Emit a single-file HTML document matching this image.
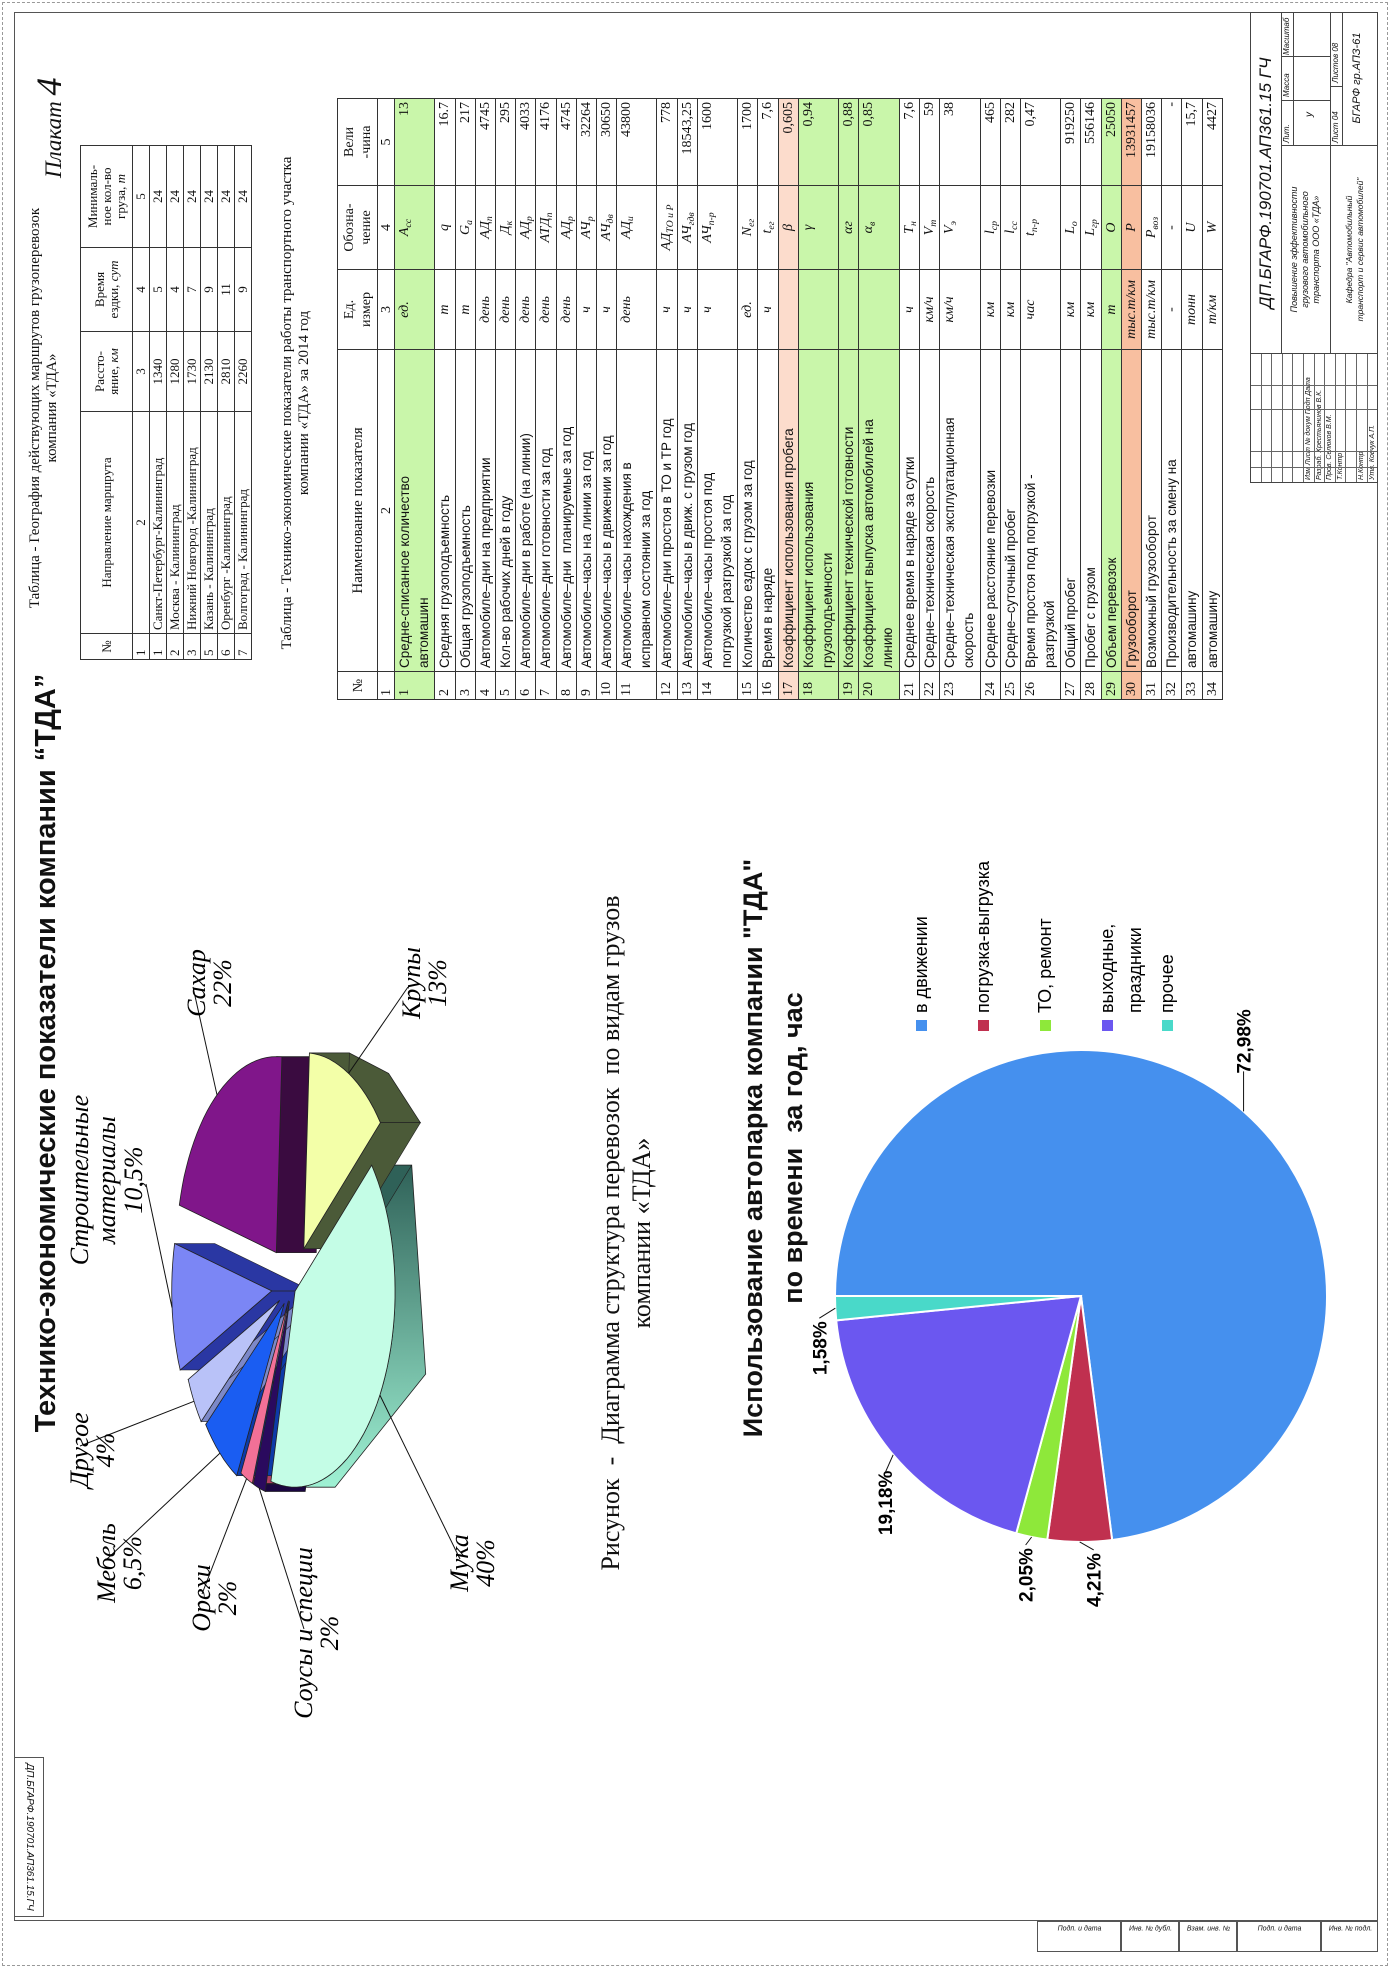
<!DOCTYPE html>
<html lang="ru"><head><meta charset="utf-8">
<style>
html,body{margin:0;padding:0;background:#fff;}
body{width:1390px;height:1968px;position:relative;overflow:hidden;}
#land{position:absolute;left:0;top:1968px;width:1968px;height:1390px;transform-origin:0 0;transform:rotate(-90deg);font-family:"Liberation Serif",serif;color:#111;}
.abs{position:absolute;}
table{border-collapse:collapse;table-layout:fixed;position:absolute;}
td{border:1px solid #333;padding:0 3px;overflow:hidden;white-space:nowrap;}
sub{line-height:0;font-size:70%;vertical-align:-3px;}
#rt td{font-size:13px;line-height:14px;height:16px;}
#rt thead td{text-align:center;line-height:14px;height:51px;}
#mt td{font-size:14px;line-height:17px;vertical-align:top;padding-top:1px;padding-bottom:0;}
#mt .nm{font-family:"Liberation Sans",sans-serif;font-size:13.5px;line-height:19px;padding-top:0;}
#mt .u,#mt .s{text-align:center;font-style:italic;}
#mt .v{text-align:right;}
.g{background:#c9f6aa;}
.p{background:#fcdccc;}
.pp{background:#f8bfa0;}
.tb{position:absolute;border:1px solid #444;box-sizing:border-box;font-family:"Liberation Sans",sans-serif;font-style:italic;overflow:hidden;}
</style></head>
<body>
<div id="land">
  <div class="abs" style="left:2px;top:2px;width:1962px;height:1384px;border:1px dashed #999;"></div>
  <div class="abs" style="left:47px;top:14px;width:1909px;height:1364px;border:1.5px solid #555;box-sizing:border-box;"></div>

  <div class="abs" style="left:51px;top:14px;width:160px;height:30px;border:1px solid #555;box-sizing:border-box;font:italic 10px 'Liberation Sans',sans-serif;text-align:center;line-height:28px;transform:rotate(180deg);">ДП.БГАРФ.190701.АП361.15.ГЧ</div>

  <div id="stamps"></div>

  <div class="abs" style="left:380px;top:30px;width:1070px;text-align:center;font:bold 29px 'Liberation Sans',sans-serif;">Технико-экономические показатели компании “ТДА”</div>
  <div class="abs" style="left:1790px;top:28px;font:italic 23px 'Liberation Serif',serif;">Плакат <span style="font-size:36px;">4</span></div>

  <div class="abs" style="left:1320px;top:27px;width:480px;text-align:center;font-size:15px;line-height:17px;">Таблица - География действующих маршрутов грузоперевозок<br>компания «ТДА»</div>
  <table id="rt" style="left:1308px;top:80px;width:514px;">
    <colgroup><col style="width:26px"><col style="width:222px"><col style="width:80px"><col style="width:84px"><col style="width:102px"></colgroup>
    <thead><tr><td>№</td><td>Направление маршрута</td><td>Рассто-<br>яние, <i>км</i></td><td>Время<br>ездки, <i>сут</i></td><td>Минималь-<br>ное кол-во<br>груза, <i>т</i></td></tr></thead>
    <tbody id="rtb"></tbody>
  </table>

  <div class="abs" style="left:1250px;top:279px;width:630px;text-align:center;font-size:15px;line-height:17px;">Таблица - Технико-экономические показатели работы транспортного участка<br>компании «ТДА» за 2014 год</div>
  <table id="mt" style="left:1268px;top:337px;width:601px;">
    <colgroup><col style="width:28px"><col style="width:322px"><col style="width:80px"><col style="width:84px"><col style="width:87px"></colgroup>
    <tbody id="mtb">
      <tr style="height:40px"><td style="text-align:center;vertical-align:middle">№</td><td style="text-align:center;vertical-align:middle;font-size:15px">Наименование показателя</td><td style="text-align:center;line-height:17px;vertical-align:middle">Ед.<br>измер</td><td style="text-align:center;line-height:17px;vertical-align:middle">Обозна-<br>чение</td><td style="text-align:center;line-height:17px;vertical-align:middle">Вели<br>-чина</td></tr>
      <tr style="height:17px"><td style="line-height:15px">1</td><td style="text-align:center;line-height:15px">2</td><td style="text-align:center;line-height:15px">3</td><td style="text-align:center;line-height:15px">4</td><td style="text-align:center;line-height:15px">5</td></tr>
    </tbody>
  </table>

  <!-- Title block -->
  <div id="tblock">
    <div class="tb" style="left:1614px;top:1250px;width:342px;height:32px;font-size:17px;text-align:center;line-height:30px;">ДП.БГАРФ.190701.АП361.15 ГЧ</div>
    <div class="tb" style="left:1614px;top:1281px;width:209px;height:50px;font-size:9px;text-align:center;line-height:11px;padding-top:7px;">Повышение эффективности<br>грузового автомобильного<br>транспорта ООО «ТДА»</div>
    <div class="tb" style="left:1614px;top:1330px;width:209px;height:48px;font-size:8.5px;text-align:center;line-height:11px;padding-top:13px;">Кафедра "Автомобильный<br>транспорт и сервис автомобилей"</div>
    <div class="tb" style="left:1822px;top:1281px;width:134px;height:50px;font-size:8px;">
      <div class="abs" style="left:2px;top:0">Лит.</div><div class="abs" style="left:48px;top:0">Масса</div><div class="abs" style="left:90px;top:0">Масштаб</div>
      <div class="abs" style="left:0;top:11px;width:134px;border-top:1px solid #444"></div>
      <div class="abs" style="left:44px;top:0;height:50px;border-left:1px solid #444"></div>
      <div class="abs" style="left:88px;top:0;height:50px;border-left:1px solid #444"></div>
      <div class="abs" style="left:28px;top:22px;font-size:10px">у</div>
    </div>
    <div class="tb" style="left:1822px;top:1330px;width:134px;height:48px;font-size:8px;">
      <div class="abs" style="left:2px;top:0">Лист  04</div><div class="abs" style="left:62px;top:0">Листов   08</div>
      <div class="abs" style="left:0;top:11px;width:134px;border-top:1px solid #444"></div>
      <div class="abs" style="left:58px;top:0;height:11px;border-left:1px solid #444"></div>
      <div class="abs" style="left:0;top:20px;width:134px;text-align:center;font-size:11px">БГАРФ гр.АПЗ-61</div>
    </div>
    <div class="tb" style="left:1485px;top:1250px;width:130px;height:128px;font-size:7px;" id="sig"></div>
  </div>

  <svg id="pie1" class="abs" style="left:0;top:0" width="1968" height="1390"></svg>
  <div class="abs" style="left:300px;top:595px;width:870px;text-align:center;font-size:26px;line-height:31px;">Рисунок &nbsp;- &nbsp;Диаграмма структура перевозок &nbsp;по видам грузов<br>компании «ТДА»</div>
  <div class="abs" style="left:460px;top:733px;width:720px;text-align:center;font:bold 27px 'Liberation Sans',sans-serif;line-height:40px;">Использование автопарка компании "ТДА"<br>по времени &nbsp;за год, час</div>
  <svg id="pie2" class="abs" style="left:0;top:0" width="1968" height="1390"></svg>
</div>

<script>
// ---------- Pie 1 data ----------
const cargoLabels = ["Мука","Соусы и специи","Орехи","Мебель","Другое","Строительные материалы","Сахар","Крупы"];
const cargoValues = [40,2,2,6.5,4,10.5,22,13];
const cargoValueText = ["40%","2%","2%","6,5%","4%","10,5%","22%","13%"];
// ---------- Pie 2 data ----------
const usageLabels = ["в движении","погрузка-выгрузка","ТО, ремонт","выходные, праздники","прочее"];
const usageValues = [72.98,4.21,2.05,19.18,1.58];
// ---------- Tables ----------
const routeRows = [
 ["1","Санкт-Петербург-Калининград","1340","5","24"],
 ["2","Москва - Калининград","1280","4","24"],
 ["3","Нижний Новгород -Калининград","1730","7","24"],
 ["5","Казань - Калининград","2130","9","24"],
 ["6","Оренбург -Калининград","2810","11","24"],
 ["7","Волгоград - Калининград","2260","9","24"]];
const mainRows = [
 ["1","Средне-списанное количество<br>автомашин","ед.","A<sub>сс</sub>","13",2,"g"],
 ["2","Средняя грузоподъемность","т","q","16.7",1,""],
 ["3","Общая грузоподъемность","т","G<sub>а</sub>","217",1,""],
 ["4","Автомобиле–дни на предприятии","день","АД<sub>п</sub>","4745",1,""],
 ["5","Кол-во рабочих дней в году","день","Д<sub>к</sub>","295",1,""],
 ["6","Автомобиле–дни в работе (на линии)","день","АД<sub>р</sub>","4033",1,""],
 ["7","Автомобиле–дни готовности за год","день","АТД<sub>п</sub>","4176",1,""],
 ["8","Автомобиле–дни &nbsp;планируемые за год","день","АД<sub>р</sub>","4745",1,""],
 ["9","Автомобиле–часы на линии за год","ч","АЧ<sub>р</sub>","32264",1,""],
 ["10","Автомобиле–часы в движении за год","ч","АЧ<sub>дв</sub>","30650",1,""],
 ["11","Автомобиле–часы нахождения в<br>исправном состоянии за год","день","АД<sub>и</sub>","43800",2,""],
 ["12","Автомобиле–дни простоя в ТО и ТР год","ч","АД<sub>ТО и Р</sub>","778",1,""],
 ["13","Автомобиле–часы в движ. с грузом год","ч","АЧ<sub>гдв</sub>","18543,25",1,""],
 ["14","Автомобиле–часы простоя под<br>погрузкой разгрузкой за год","ч","АЧ<sub>п-р</sub>","1600",2,""],
 ["15","Количество ездок с грузом за год","ед.","N<sub>ег</sub>","1700",1,""],
 ["16","Время в наряде","ч","t<sub>ег</sub>","7,6",1,""],
 ["17","Коэффициент использования пробега","","β","0,605",1,"p"],
 ["18","Коэффициент использования<br>грузоподъемности","","γ","0,94",2,"g"],
 ["19","Коэффициент технической готовности","","αг","0,88",1,"g"],
 ["20","Коэффициент выпуска автомобилей на<br>линию","","α<sub>в</sub>","0,85",2,"g"],
 ["21","Среднее время в наряде за сутки","ч","Т<sub>н</sub>","7,6",1,""],
 ["22","Средне–техническая скорость","км/ч","V<sub>т</sub>","59",1,""],
 ["23","Средне–техническая эксплуатационная<br>скорость","км/ч","V<sub>э</sub>","38",2,""],
 ["24","Среднее расстояние перевозки","км","l<sub>ср</sub>","465",1,""],
 ["25","Средне–суточный пробег","км","l<sub>сс</sub>","282",1,""],
 ["26","Время простоя под погрузкой -<br>разгрузкой","час","t<sub>п-р</sub>","0,47",2,""],
 ["27","Общий пробег","км","L<sub>о</sub>","919250",1,""],
 ["28","Пробег с грузом","км","L<sub>гр</sub>","556146",1,""],
 ["29","Объем перевозок","т","О","25050",1,"g"],
 ["30","Грузооборот","тыс.т/км","Р","13931457",1,"pp"],
 ["31","Возможный грузооборот","тыс.т/км","Р<sub>воз</sub>","19158036",1,""],
 ["32","Производительность за смену на","-","-","-",1,""],
 ["33","автомашину","тонн","U","15,7",1,""],
 ["34","автомашину","т/км","W","4427",1,""]];

const NS="http://www.w3.org/2000/svg";
function sv(tag,attrs,parent){const e=document.createElementNS(NS,tag);for(const k in attrs)e.setAttribute(k,attrs[k]);parent.appendChild(e);return e;}

// route table
const rtb=document.getElementById('rtb');
{
 const tr=document.createElement('tr');
 
 
 ["1","2","3","4","5"].forEach((t,i)=>{const td=document.createElement('td');td.textContent=t;td.style.textAlign=i==0?'left':'center';tr.appendChild(td);});
 rtb.appendChild(tr);
}
routeRows.forEach(r=>{
 const tr=document.createElement('tr');
 
 
 r.forEach((t,i)=>{const td=document.createElement('td');td.textContent=t;td.style.textAlign=(i>=2)?'center':'left';tr.appendChild(td);});
 rtb.appendChild(tr);
});

// main table
const mtb=document.getElementById('mtb');
mainRows.forEach(r=>{
 const tr=document.createElement('tr');
 
 
 tr.style.height=(r[5]*20.2)+'px';
 if(r[6]) tr.className=r[6];
 const cls=["","nm","u","s","v"];
 for(let i=0;i<5;i++){const td=document.createElement('td');td.innerHTML=r[i];if(cls[i])td.className=cls[i];td.style.height=(r[5]*20.2-2)+'px';tr.appendChild(td);}
 mtb.appendChild(tr);
});

// signature grid
const sig=document.getElementById('sig');
const sigRows=["","","","","","Изм Лист № докум  Подп  Дата","Разраб. Хрестьянинов В.К.","Пров.  Селюков В.М.","Т.Контр","","Н.Контр","Утв.  Ковчук А.П."];
sigRows.forEach((t,i)=>{
 const d=document.createElement('div');
 
 
 d.className='abs';
 d.style.cssText=`left:0;top:${i*10.6}px;width:130px;height:10.6px;border-bottom:1px solid #666;line-height:10px;padding-left:2px;box-sizing:border-box;`;
 d.textContent=t;sig.appendChild(d);
});
[14,30,72,96].forEach(x=>{const d=document.createElement('div');d.className='abs';d.style.cssText=`left:${x}px;top:0;height:128px;border-left:1px solid #666`;sig.appendChild(d);});

// side stamps
const stampLabels=["Подп. и дата","Инв. № дубл.","Взам. инв. №","Подп. и дата","Инв. № подл."];
const stampY=[1037,1121,1179,1237,1321,1378];
const stamps=document.getElementById('stamps');
stampLabels.forEach((t,i)=>{
 const d=document.createElement('div');
 
 
 d.className='abs';
 d.style.cssText=`left:16px;top:${stampY[i]}px;width:31px;height:${stampY[i+1]-stampY[i]}px;border:1px solid #555;box-sizing:border-box;`;
 const s=document.createElement('div');
 s.className='abs';
 s.style.cssText=`left:22px;top:${(stampY[i+1]-stampY[i])/2-4}px;font:italic 7px 'Liberation Sans',sans-serif;white-space:nowrap;transform:translate(-50%,0) rotate(90deg);transform-origin:50% 50%;`;
 s.textContent=t;d.appendChild(s);stamps.appendChild(d);
});

// ---------- Pie 1 (3D exploded) ----------
(function(){
 const svg=document.getElementById('pie1');
 const cx=680, cy=292, rx=196, ry=100, depth=40, startA=50;
 const topCol=["#c4fde6","#2a0a5e","#f27097","#1a5df2","#b9c2f8","#7b86f5","#80168a","#f3ffa8"];
 const sideCol=["url(#mukaG)","#1a0640","#b04060","#0d3aa8","#7c88c8","#2a37a3","#3a0b40","#4b5a38"];
 const explode=[6,14,14,20,24,34,44,44];
 const defs=sv('defs',{},svg);
 const lg=sv('linearGradient',{id:'mukaG',x1:'0',y1:'0',x2:'1',y2:'0'},defs);
 sv('stop',{offset:'0','stop-color':'#9ff2d4'},lg);
 sv('stop',{offset:'1','stop-color':'#2f6158'},lg);
 const total=cargoValues.reduce((a,b)=>a+b,0);
 const P=(a,ox,oy,dz)=>[cx+ox+rx*Math.cos(a*Math.PI/180), cy+oy+ry*Math.sin(a*Math.PI/180)+(dz||0)];
 let a=startA; const sl=[];
 cargoValues.forEach((v,i)=>{const a1=a,a2=a+v/total*360;a=a2;const m=(a1+a2)/2;
   const ox=explode[i]*Math.cos(m*Math.PI/180), oy=explode[i]*Math.sin(m*Math.PI/180)*0.6; sl.push({a1,a2,m,ox,oy,i});});
 const gSide=sv('g',{},svg), gTop=sv('g',{},svg), gLab=sv('g',{},svg);
 function arcPath(a1,a2,ox,oy,dz){let d='';const n=Math.max(2,Math.ceil((a2-a1)/3));for(let k=0;k<=n;k++){const p=P(a1+(a2-a1)*k/n,ox,oy,dz);d+=(k?'L':'M')+p[0].toFixed(1)+','+p[1].toFixed(1);}return d;}
 sl.forEach(s=>{
   [[0,180],[360,540]].forEach(([lo,hi])=>{
     const b1=Math.max(s.a1,lo), b2=Math.min(s.a2,hi);
     if(b2>b1){
       let d=arcPath(b1,b2,s.ox,s.oy,0);
       const back=arcPath(b2,b1,s.ox,s.oy,depth).replace('M','L');
       const p=sv('path',{d:d+back+'Z',fill:sideCol[s.i],stroke:'#222','stroke-width':0.8},gSide);
       
       
     }
   });
   [s.a1,s.a2].forEach(ang=>{
     const c=[cx+s.ox,cy+s.oy], e=P(ang,s.ox,s.oy,0);
     const d=`M${c[0]},${c[1]}L${e[0]},${e[1]}L${e[0]},${e[1]+depth}L${c[0]},${c[1]+depth}Z`;
     const w=sv('path',{d,fill:sideCol[s.i]==='url(#mukaG)'?'#2f6158':sideCol[s.i],stroke:'#222','stroke-width':0.6},gSide);
     
     
   });
   const top=sv('path',{d:`M${cx+s.ox},${cy+s.oy}`+arcPath(s.a1,s.a2,s.ox,s.oy,0).replace('M','L')+'Z',fill:topCol[s.i],stroke:'#222','stroke-width':0.8},gTop);
   
   
 });
 const labPos=[[405,468],[335,312],[370,210],[405,115],[518,88],[788,88],[985,205],[985,420]];
 sl.forEach(s=>{
   const [lx,ly]=labPos[s.i];
   const anc=P(s.m,s.ox,s.oy,0);
   const ln=sv('polyline',{points:`${anc[0]},${anc[1]} ${lx+ (anc[0]<lx? -4:4)},${ly+ (s.i==5?58:s.i>=6?-12:-8)}`,fill:'none',stroke:'#111','stroke-width':1},gLab);
   
   
   const t=sv('text',{x:lx,y:ly,'text-anchor':'middle','font-family':'Liberation Serif, serif','font-style':'italic','font-size':26},gLab);
   
   
   if(s.i===5){t.innerHTML=`<tspan x="${lx}">Строительные</tspan><tspan x="${lx}" dy="27">материалы</tspan><tspan x="${lx}" dy="27">${cargoValueText[s.i]}</tspan>`;}
   else{t.innerHTML=`<tspan x="${lx}">${cargoLabels[s.i]}</tspan><tspan x="${lx}" dy="26">${cargoValueText[s.i]}</tspan>`;}
 });
})();

// ---------- Pie 2 ----------
(function(){
 const svg=document.getElementById('pie2');
 const cx=672, cy=1081, r=246;
 const cols=["#4590ee","#c0304f","#8ee83a","#6b57f0","#49d9c9"];
 const total=usageValues.reduce((a,b)=>a+b,0);
 let a=-90;
 const pt=(ang,rr)=>[cx+rr*Math.cos(ang*Math.PI/180), cy+rr*Math.sin(ang*Math.PI/180)];
 const labOff=[[70,0],[-38,14],[-38,-6],[-48,-8],[-40,-16]];
 usageValues.forEach((v,i)=>{
   const a1=a,a2=a+v/total*360;a=a2;
   const p1=pt(a1,r),p2=pt(a2,r);const large=(a2-a1)>180?1:0;
   const p=sv('path',{d:`M${cx},${cy}L${p1[0]},${p1[1]}A${r},${r} 0 ${large} 1 ${p2[0]},${p2[1]}Z`,fill:cols[i],stroke:'#fff','stroke-width':2},svg);
   
   
   const m=(a1+a2)/2, an=pt(m,r), lp=[an[0]+labOff[i][0], an[1]+labOff[i][1]];
   const ln=sv('polyline',{points:`${an[0]},${an[1]} ${lp[0]+(i==0?-30:30)},${lp[1]} `,fill:'none',stroke:'#111','stroke-width':1},svg);
   
   
   const t=sv('text',{x:lp[0],y:lp[1]+7,'text-anchor':'middle','font-family':'Liberation Sans, sans-serif','font-weight':'bold','font-size':19},svg);
   t.textContent=v.toFixed(2).replace('.',',')+'%';
   
   
 });
 const legY=[922,984,1046,1108,1168];
 usageLabels.forEach((lab,i)=>{
   const sq=sv('rect',{x:937,y:legY[i]-6,width:11,height:11,fill:cols[i]},svg);
   
   
   const t=sv('text',{x:955,y:legY[i]+5,'font-family':'Liberation Sans, sans-serif','font-size':18},svg);
   
   
   if(i===3){const parts=lab.split(' ');t.innerHTML=`<tspan x="955">${parts[0]}</tspan><tspan x="955" dy="28">${parts[1]}</tspan>`;}
   else t.textContent=lab;
 });
})();
</script>
</body></html>
